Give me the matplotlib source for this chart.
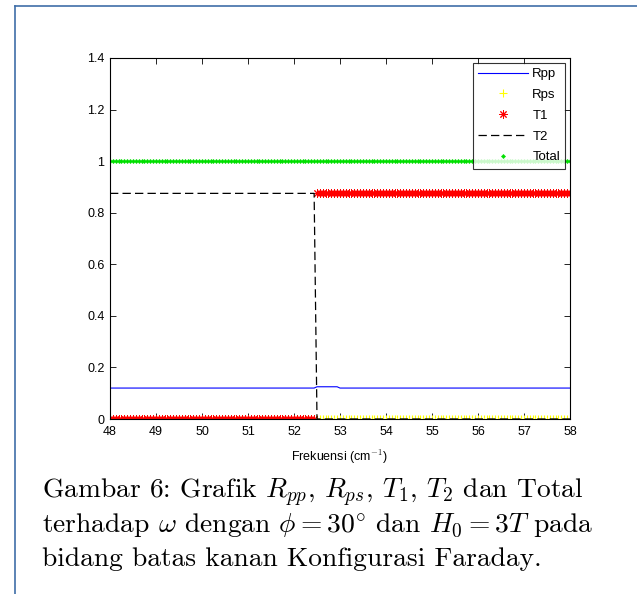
import numpy as np
import matplotlib
matplotlib.use("Agg")
import matplotlib.pyplot as plt
from matplotlib.lines import Line2D

# ---- data ----
freq_start, freq_stop, freq_step = 48.0, 58.0, 0.0625
freq = np.arange(freq_start, freq_stop + 1e-9, freq_step)
switch_freq = 52.47          # where T1/T2 swap
rpp_low, rpp_bump = 0.12, 0.125
rpp_bump_end = 53.0
t_high, t_low = 0.875, 0.0
rps_level = 0.0
total_level = 1.0

rpp = np.where((freq > switch_freq) & (freq < rpp_bump_end), rpp_bump, rpp_low)
rps = np.full_like(freq, rps_level)
t1 = np.where(freq > switch_freq, t_high, t_low)
t2 = np.where(freq > switch_freq, t_low, t_high)
total = np.full_like(freq, total_level)

series_labels = ["Rpp", "Rps", "T1", "T2", "Total"]
x_ticks = list(range(48, 59))
y_ticks = [0, 0.2, 0.4, 0.6, 0.8, 1.0, 1.2, 1.4]
y_tick_labels = ["0", "0.2", "0.4", "0.6", "0.8", "1", "1.2", "1.4"]
x_label = "Frekuensi (cm$^{-1}$)"
caption_lines = [
    r"Gambar 6: Grafik $R_{pp}$, $R_{ps}$, $T_1$, $T_2$ dan Total",
    r"terhadap $\omega$ dengan $\phi = 30^{\circ}$ dan $H_0 = 3T$ pada",
    r"bidang batas kanan Konfigurasi Faraday.",
]

plt.rcParams["lines.scale_dashes"] = False
plt.rcParams["mathtext.fontset"] = "cm"

W, H = 637, 594
fig = plt.figure(figsize=(W / 100, H / 100), dpi=100)
fig.patch.set_facecolor("white")

# page frame (blue lines at left and top)
frame_col = "#3f6ea8"
fig.add_artist(Line2D([15 / W, 15 / W], [0, 1 - 6 / H], color=frame_col, lw=1.2,
                      transform=fig.transFigure))
fig.add_artist(Line2D([15 / W, 1], [1 - 6 / H, 1 - 6 / H], color=frame_col, lw=1.2,
                      transform=fig.transFigure))

ax_l, ax_r, ax_t, ax_b = 110, 570, 58, 419
ax = fig.add_axes([ax_l / W, 1 - ax_b / H, (ax_r - ax_l) / W, (ax_b - ax_t) / H])

tick_font = dict(family="Liberation Sans", size=9)

ax.plot(freq, rpp, color="#0000ff", lw=0.8, label=series_labels[0])
ax.plot(freq, rps, color="#ffff00", ls="none", marker="+", ms=5.5, mew=0.8,
        label=series_labels[1])
ax.plot(freq, t1, color="#ff0000", ls="none", marker=(8, 2, 0), ms=6, mew=0.7,
        label=series_labels[2])
ax.plot(freq, t2, color="black", lw=0.9, ls=(0, (6, 3)), label=series_labels[3])
ax.plot(freq, total, color="#00e000", ls="none", marker="D", ms=2.2, mew=0.3,
        label=series_labels[4])

ax.set_xlim(48, 58)
ax.set_ylim(0, 1.4)
ax.set_xticks(x_ticks)
ax.set_xticklabels([str(t) for t in x_ticks], **tick_font)
ax.set_yticks(y_ticks)
ax.set_yticklabels(y_tick_labels, **tick_font)
ax.tick_params(axis="x", direction="in", top=True, length=4, width=0.6, pad=5)
ax.tick_params(axis="y", direction="in", right=True, length=4, width=0.6, pad=4)
for s in ax.spines.values():
    s.set_linewidth(0.8)
    s.set_color("black")
ax.set_xlabel(x_label, fontdict=dict(family="Liberation Sans", size=9), labelpad=7)

leg = ax.legend(loc="upper right", prop=dict(family="Liberation Sans", size=9.5),
                frameon=True, fancybox=False, edgecolor="black",
                handlelength=3.8, labelspacing=0.65, borderaxespad=0.35,
                handletextpad=0.3, borderpad=0.4)
leg.get_frame().set_linewidth(0.8)

# caption
for i, line in enumerate(caption_lines):
    fig.text(42 / W, 1 - (493 + 33 * i) / H, line, family="cmr10", size=19.8,
             va="center", ha="left")

fig.savefig("out.png", dpi=100, facecolor="white")
